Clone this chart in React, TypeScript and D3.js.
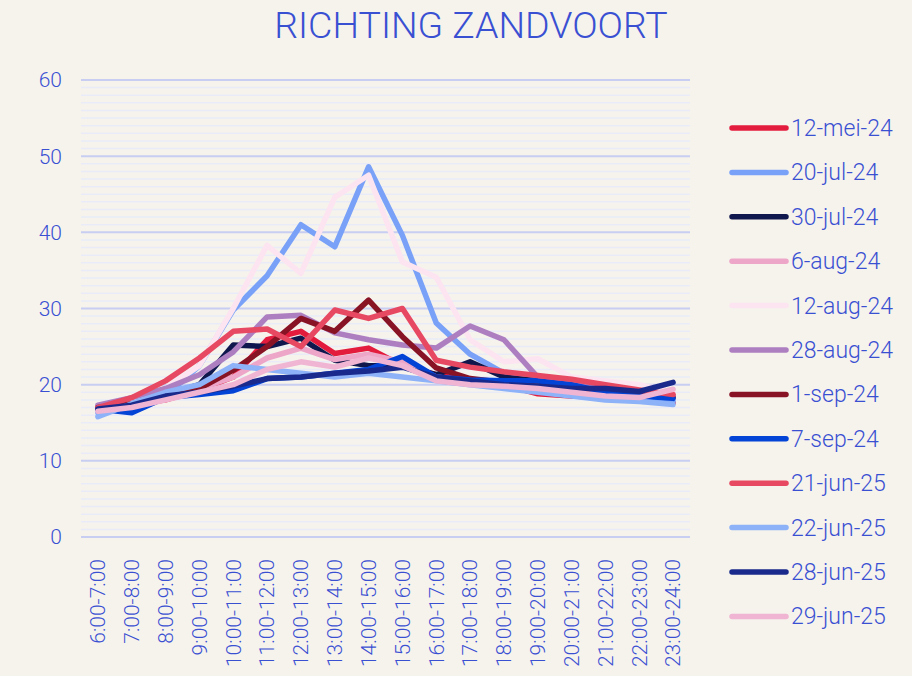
import { useRef, useEffect } from "react";
import * as d3 from "d3";

const categories = [
  "6:00-7:00", "7:00-8:00", "8:00-9:00", "9:00-10:00", "10:00-11:00", "11:00-12:00",
  "12:00-13:00", "13:00-14:00", "14:00-15:00", "15:00-16:00", "16:00-17:00", "17:00-18:00",
  "18:00-19:00", "19:00-20:00", "20:00-21:00", "21:00-22:00", "22:00-23:00", "23:00-24:00",
];

const seriesNames = [
  "12-mei-24", "20-jul-24", "30-jul-24", "6-aug-24", "12-aug-24", "28-aug-24",
  "1-sep-24", "7-sep-24", "21-jun-25", "22-jun-25", "28-jun-25", "29-jun-25",
];

const seriesColors = [
  "#e31c3d", "#78a1f7", "#10174d", "#eda5c8", "#fce4f0", "#ad7fc0",
  "#881325", "#0343d6", "#e74862", "#8db2f8", "#1a2a8c", "#f0b5d2",
];

const mei12_24 = [16.8, 17.3, 18.0, 19.3, 21.0, 25.9, 27.0, 24.1, 24.8, 22.5, 21.3, 20.5, 20.0, 18.8, 18.5, 18.3, 18.0, 17.6];
const jul20_24 = [16.3, 17.0, 18.5, 22.5, 29.8, 34.3, 41.0, 38.1, 48.6, 39.6, 28.1, 24.0, 21.5, 20.5, 20.0, 19.0, 18.5, 17.8];
const jul30_24 = [16.8, 17.5, 18.7, 20.0, 25.2, 25.0, 26.1, 23.2, 22.5, 22.5, 21.3, 23.0, 21.0, 20.5, 20.0, 19.5, 19.0, 18.5];
const aug6_24 = [17.0, 17.5, 18.5, 19.5, 21.0, 23.5, 24.8, 23.3, 24.0, 23.0, 21.0, 20.5, 20.0, 19.5, 19.5, 19.0, 18.7, 18.5];
const aug12_24 = [17.3, 18.0, 19.5, 22.5, 30.0, 38.3, 34.6, 44.6, 47.5, 36.1, 34.1, 25.9, 23.0, 23.4, 21.0, 20.5, 20.0, 19.0];
const aug28_24 = [17.3, 18.3, 19.5, 21.3, 24.3, 28.9, 29.1, 26.8, 25.9, 25.2, 24.8, 27.7, 25.9, 21.0, 20.3, 19.5, 19.0, 18.3];
const sep1_24 = [17.0, 17.5, 18.5, 19.5, 21.9, 25.0, 28.7, 27.0, 31.1, 26.3, 22.2, 20.8, 20.3, 19.8, 19.5, 19.0, 18.7, 18.3];
const sep7_24 = [16.8, 16.3, 18.3, 18.7, 19.2, 20.8, 21.0, 21.5, 22.0, 23.7, 21.0, 20.6, 20.5, 20.5, 20.0, 19.0, 18.5, 18.2];
const jun21_25 = [17.0, 18.3, 20.5, 23.5, 27.0, 27.3, 25.0, 29.8, 28.7, 30.0, 23.2, 22.3, 21.7, 21.2, 20.7, 20.0, 19.3, 18.7];
const jun22_25 = [15.8, 17.5, 19.0, 20.0, 22.5, 22.0, 21.5, 21.0, 21.5, 21.0, 20.5, 20.0, 19.5, 19.0, 18.5, 18.0, 17.8, 17.4];
const jun28_25 = [16.8, 17.3, 18.5, 19.0, 19.8, 20.8, 21.0, 21.5, 21.8, 22.3, 21.0, 20.5, 20.0, 19.8, 19.5, 19.5, 19.1, 20.3];
const jun29_25 = [16.5, 17.0, 18.0, 19.0, 20.0, 22.0, 23.0, 22.3, 23.5, 22.5, 20.5, 20.0, 19.8, 19.5, 19.0, 18.5, 18.3, 19.4];

const seriesValues = [
  mei12_24, jul20_24, jul30_24, aug6_24, aug12_24, aug28_24,
  sep1_24, sep7_24, jun21_25, jun22_25, jun28_25, jun29_25,
];

const yTicks = [0, 10, 20, 30, 40, 50, 60];

const W = 912;
const H = 676;
const textColor = "#3a50d2";
const font = "Roboto, 'Noto Sans', sans-serif";

const App = () => {
  const svgRef = useRef<SVGSVGElement | null>(null);

  useEffect(() => {
    if (!svgRef.current) return;
    const svg = d3.select(svgRef.current);
    svg.selectAll("*").remove();

    const plot = { left: 81, right: 690, top: 80, bottom: 537 };

    svg.append("rect").attr("width", W).attr("height", H).attr("fill", "#f6f3ed");

    // title
    svg.append("text")
      .attr("x", 471)
      .attr("y", 38)
      .attr("text-anchor", "middle")
      .attr("font-family", font)
      .attr("font-weight", 300)
      .attr("font-size", 37.5)
      .attr("fill", textColor)
      .text("RICHTING ZANDVOORT");

    const x = d3.scaleBand().domain(categories).range([plot.left, plot.right]);
    const y = d3.scaleLinear().domain([0, 60]).range([plot.bottom, plot.top]);
    const cx = (c: string) => (x(c) || 0) + x.bandwidth() / 2;

    // minor gridlines
    svg.append("g")
      .selectAll("line")
      .data(d3.range(0, 61).filter(v => v % 10 !== 0))
      .enter()
      .append("line")
      .attr("x1", plot.left)
      .attr("x2", plot.right)
      .attr("y1", d => y(d))
      .attr("y2", d => y(d))
      .attr("stroke", "#e9ecf8")
      .attr("stroke-width", 1.5);

    // major gridlines
    svg.append("g")
      .selectAll("line")
      .data(yTicks)
      .enter()
      .append("line")
      .attr("x1", plot.left)
      .attr("x2", plot.right)
      .attr("y1", d => y(d))
      .attr("y2", d => y(d))
      .attr("stroke", "#c7cef1")
      .attr("stroke-width", 2);

    // y labels
    svg.append("g")
      .selectAll("text")
      .data(yTicks)
      .enter()
      .append("text")
      .attr("x", 62)
      .attr("y", d => y(d))
      .attr("dy", "0.35em")
      .attr("text-anchor", "end")
      .attr("font-family", font)
      .attr("font-weight", 300)
      .attr("font-size", 21)
      .attr("fill", textColor)
      .text(d => d);

    // x labels
    svg.append("g")
      .selectAll("text")
      .data(categories)
      .enter()
      .append("text")
      .attr("transform", d => `translate(${cx(d)},${plot.bottom + 22}) rotate(-90)`)
      .attr("dy", "0.35em")
      .attr("text-anchor", "end")
      .attr("font-family", font)
      .attr("font-weight", 300)
      .attr("font-size", 21)
      .attr("fill", textColor)
      .text(d => d);

    // lines
    const line = d3.line<number>()
      .x((_, i) => cx(categories[i]))
      .y(d => y(d));

    svg.append("g")
      .selectAll("path")
      .data(seriesValues)
      .enter()
      .append("path")
      .attr("d", d => line(d))
      .attr("fill", "none")
      .attr("stroke", (_, i) => seriesColors[i])
      .attr("stroke-width", 5.5)
      .attr("stroke-linejoin", "round")
      .attr("stroke-linecap", "round");

    // legend
    const legend = svg.append("g")
      .selectAll("g")
      .data(seriesNames)
      .enter()
      .append("g")
      .attr("transform", (_, i) => `translate(0,${128 + i * 44.4})`);

    legend.append("line")
      .attr("x1", 732)
      .attr("x2", 786)
      .attr("stroke", (_, i) => seriesColors[i])
      .attr("stroke-width", 5.5)
      .attr("stroke-linecap", "round");

    legend.append("text")
      .attr("x", 791)
      .attr("dy", "0.35em")
      .attr("font-family", font)
      .attr("font-weight", 300)
      .attr("font-size", 23)
      .attr("fill", textColor)
      .text(d => d);
  }, []);

  return (
    <svg
      ref={svgRef}
      width={W}
      height={H}
      viewBox={`0 0 ${W} ${H}`}
      style={{ position: "absolute", left: 0, top: 0, display: "block" }}
    ></svg>
  );
};

export default App;
